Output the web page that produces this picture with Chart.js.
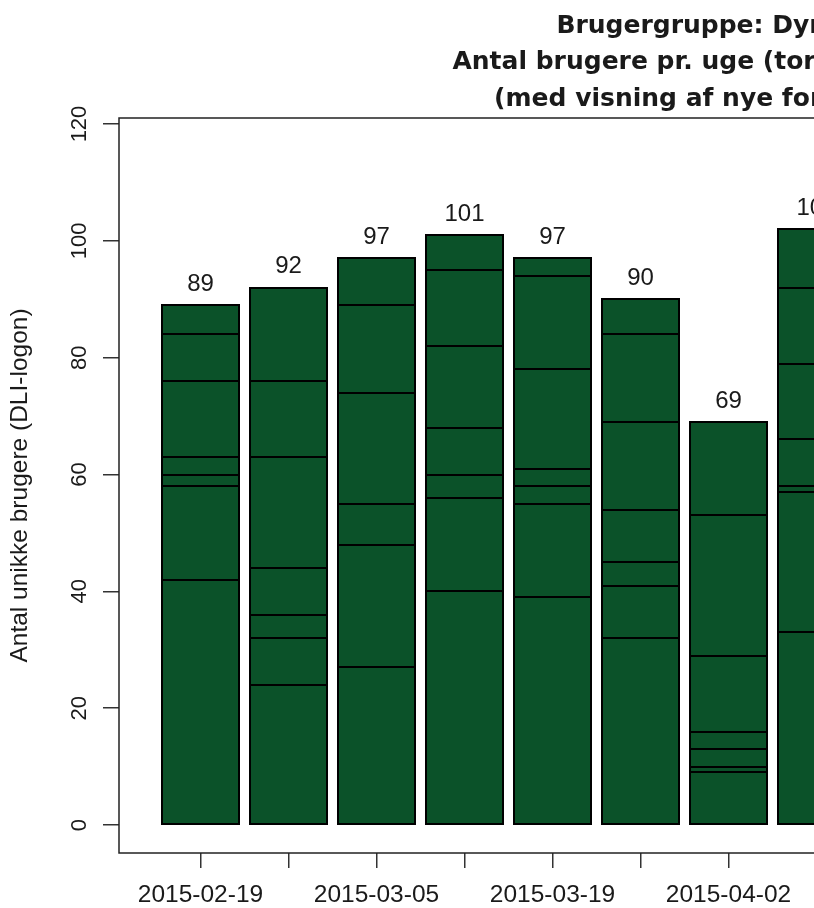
<!DOCTYPE html>
<html>
<head>
<meta charset="utf-8">
<script src="https://cdn.jsdelivr.net/npm/chart.js@4"></script>
<style>
  html, body { margin: 0; padding: 0; overflow: hidden; background: #fff; }
  #wrap { position: absolute; left: 0; top: 0; width: 1400px; height: 908px; }
</style>
</head>
<body>
<div id="wrap"><canvas id="c" width="1400" height="908"></canvas></div>
<script>
// ---- data ----
const weekLabels = ['2015-02-19','2015-02-26','2015-03-05','2015-03-12','2015-03-19','2015-03-26','2015-04-02','2015-04-09'];
const weekIndex  = [1, 2, 3, 4, 5, 6, 7, 8];
// stacked segments, bottom to top
const seg1 = [42, 24, 27, 40, 39, 32,  9, 33];
const seg2 = [16,  8, 21, 16, 16,  9,  1, 24];
const seg3 = [ 2,  4,  7,  4,  3,  4,  3,  1];
const seg4 = [ 3,  8, 19,  8,  3,  9,  3,  8];
const seg5 = [13, 19, 15, 14, 17, 15, 13, 13];
const seg6 = [ 8, 13,  8, 13, 16, 15, 24, 13];
const seg7 = [ 5, 16,  0,  6,  3,  6, 16, 10];
const totals = [89, 92, 97, 101, 97, 90, 69, 102];
const yTicks = [0, 20, 40, 60, 80, 100, 120];
const titleLines = ['Brugergruppe: Dyrlæger', 'Antal brugere pr. uge (torsdag-onsdag)', '(med visning af nye forekomster)'];
const yTitle = 'Antal unikke brugere (DLI-logon)';

const segments = [seg1, seg2, seg3, seg4, seg5, seg6, seg7];
const barColor = '#0b5229';
const ink = '#1a1a1a';

const datasets = segments.map((seg, k) => ({
  label: 'Segment ' + (k + 1),
  data: seg.map((v, i) => ({ x: weekIndex[i], y: v })),
  backgroundColor: barColor,
  borderWidth: 0,
  barPercentage: 0.875,
  categoryPercentage: 1.0
}));

// crisp black outlines around each stacked segment (geometry from the bar elements)
const outlinePlugin = {
  id: 'outline',
  afterDatasetsDraw(chart) {
    const { ctx } = chart;
    ctx.save();
    ctx.strokeStyle = '#000';
    ctx.lineWidth = 2;
    chart.data.datasets.forEach((ds, k) => {
      const meta = chart.getDatasetMeta(k);
      meta.data.forEach((el) => {
        const p = el.getProps(['x', 'y', 'base', 'width'], true);
        if (Math.abs(p.base - p.y) < 0.5) return;
        const x0 = Math.round(p.x - p.width / 2);
        const x1 = Math.round(p.x + p.width / 2);
        const y0 = Math.round(Math.min(p.y, p.base));
        const y1 = Math.round(Math.max(p.y, p.base));
        ctx.strokeRect(x0, y0, x1 - x0, y1 - y0);
      });
    });
    ctx.restore();
  }
};

const boxPlugin = {
  id: 'box',
  afterDatasetsDraw(chart) {
    const { ctx, chartArea: a } = chart;
    ctx.save();
    ctx.strokeStyle = '#222';
    ctx.lineWidth = 1.5;
    ctx.strokeRect(a.left, a.top, a.right - a.left, a.bottom - a.top);
    ctx.restore();
  }
};

const totalsPlugin = {
  id: 'totals',
  afterDatasetsDraw(chart) {
    const { ctx, scales } = chart;
    ctx.save();
    ctx.font = '24px "Liberation Sans", Arial, sans-serif';
    ctx.fillStyle = ink;
    ctx.textAlign = 'center';
    ctx.textBaseline = 'middle';
    totals.forEach((t, i) => {
      const x = scales.x.getPixelForValue(weekIndex[i]);
      const y = scales.y.getPixelForValue(t) - 21;
      ctx.fillText(String(t), x, y);
    });
    ctx.restore();
  }
};

new Chart(document.getElementById('c'), {
  type: 'bar',
  data: { datasets },
  plugins: [outlinePlugin, boxPlugin, totalsPlugin],
  options: {
    responsive: false,
    animation: false,
    devicePixelRatio: 1,
    layout: { padding: { left: 0, top: 0, right: 59, bottom: 0 } },
    plugins: {
      legend: { display: false },
      tooltip: { enabled: false },
      title: {
        display: true,
        fullSize: false,
        text: titleLines,
        color: ink,
        font: { family: '"DejaVu Sans", Verdana, sans-serif', size: 25, weight: 'bold', lineHeight: 1.46 },
        padding: { top: 8, bottom: 0.5 }
      }
    },
    scales: {
      x: {
        type: 'linear',
        stacked: true,
        offset: false,
        min: 0.074,
        max: 13.96,
        afterBuildTicks(scale) { scale.ticks = weekIndex.map(v => ({ value: v })); },
        afterFit(scale) { scale.height = 55; },
        grid: { display: true, drawOnChartArea: false, drawTicks: true, tickLength: 15, color: '#333', lineWidth: 1.5, offset: false },
        border: { display: false },
        ticks: {
          autoSkip: false,
          maxRotation: 0,
          minRotation: 0,
          padding: 13,
          color: ink,
          font: { family: '"Liberation Sans", Arial, sans-serif', size: 24.5 },
          callback(value, index) {
            const i = weekIndex.indexOf(value);
            return (i >= 0 && i % 2 === 0) ? weekLabels[i] : '';
          }
        }
      },
      y: {
        stacked: true,
        min: -4.79,
        max: 121.03,
        afterBuildTicks(scale) { scale.ticks = yTicks.map(v => ({ value: v })); },
        afterFit(scale) { scale.width = 119; },
        grid: { display: true, drawOnChartArea: false, drawTicks: true, tickLength: 16, color: '#333', lineWidth: 1.5 },
        border: { display: false },
        title: {
          display: true,
          text: yTitle,
          color: ink,
          font: { family: '"Liberation Sans", Arial, sans-serif', size: 24.5 },
          padding: { top: 5.5, bottom: 0 }
        },
        ticks: {
          minRotation: 90,
          maxRotation: 90,
          crossAlign: 'center',
          padding: 5,
          color: ink,
          font: { family: '"Liberation Sans", Arial, sans-serif', size: 22 },
          callback(value) { return String(value); }
        }
      }
    }
  }
});
</script>
</body>
</html>
